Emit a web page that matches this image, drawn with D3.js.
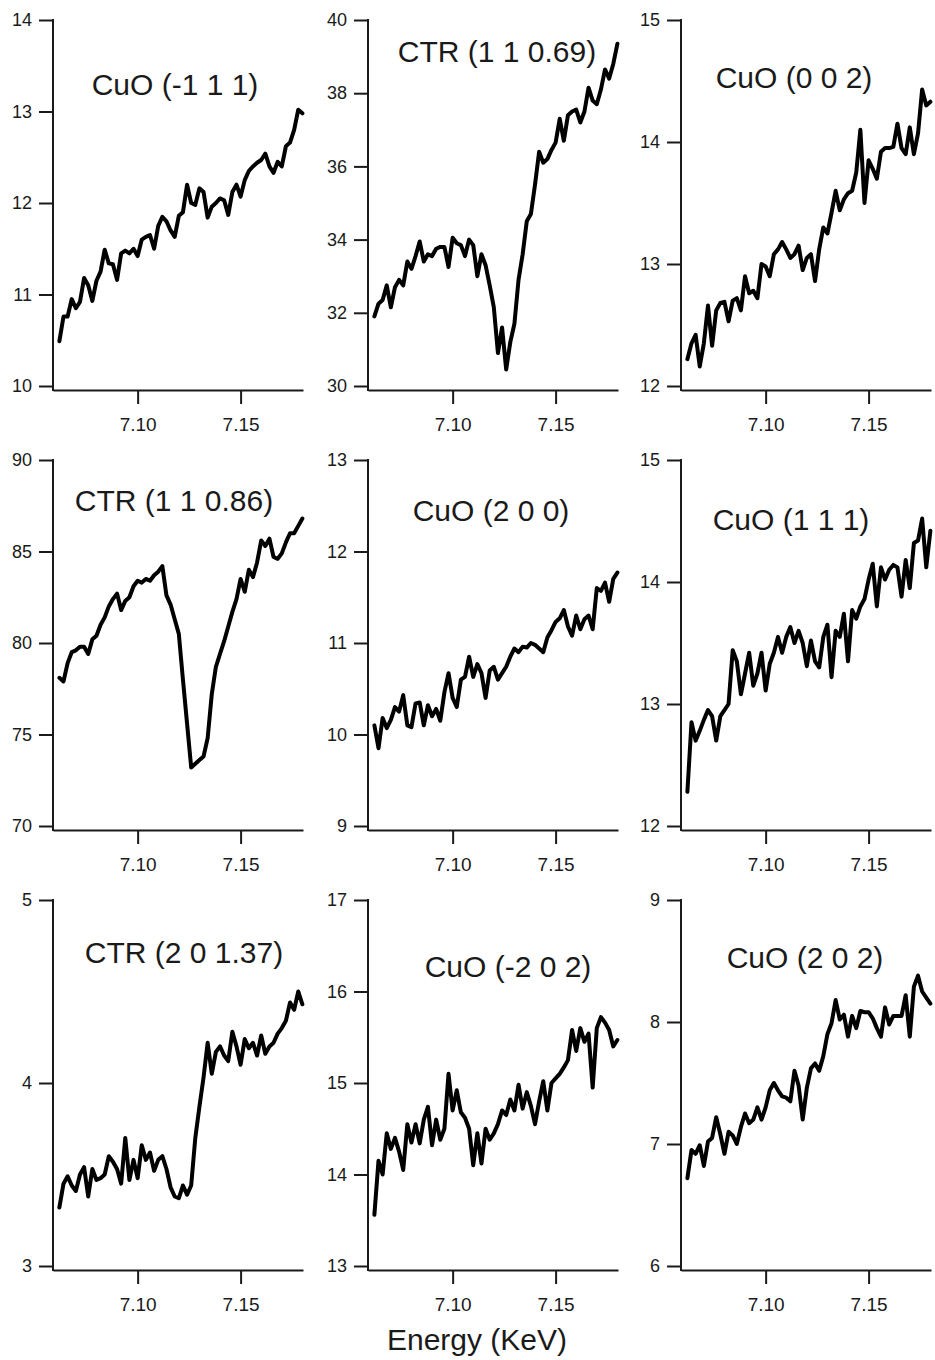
<!DOCTYPE html>
<html>
<head>
<meta charset="utf-8">
<script src="https://cdn.jsdelivr.net/npm/d3@7"></script>
<style>
  body { margin: 0; background: #fff; }
  text { font-family: "Liberation Sans", Arial, sans-serif; fill: #1a1a1a; }
</style>
</head>
<body>
<div id="chart"></div>
<script>
// ----------------------------------------------- //
// Data: shared energy grid (keV) and one intensity array per panel
var energy = [
  7.062, 7.064, 7.066, 7.068, 7.070, 7.072, 7.074, 7.076, 7.078, 7.080,
  7.082, 7.084, 7.086, 7.088, 7.090, 7.092, 7.094, 7.096, 7.098, 7.100,
  7.102, 7.104, 7.106, 7.108, 7.110, 7.112, 7.114, 7.116, 7.118, 7.120,
  7.122, 7.124, 7.126, 7.128, 7.130, 7.132, 7.134, 7.136, 7.138, 7.140,
  7.142, 7.144, 7.146, 7.148, 7.150, 7.152, 7.154, 7.156, 7.158, 7.160,
  7.162, 7.164, 7.166, 7.168, 7.170, 7.172, 7.174, 7.176, 7.178, 7.180
];

var cuoM111 = [
  10.49, 10.76, 10.76, 10.95, 10.85, 10.92, 11.18, 11.10, 10.93, 11.15,
  11.25, 11.49, 11.34, 11.33, 11.16, 11.45, 11.48, 11.45, 11.50, 11.42,
  11.60, 11.63, 11.65, 11.50, 11.75, 11.85, 11.80, 11.70, 11.63, 11.86,
  11.90, 12.20, 12.00, 11.98, 12.16, 12.12, 11.84, 11.96, 12.00, 12.05,
  12.03, 11.87, 12.12, 12.20, 12.07, 12.25, 12.35, 12.40, 12.44, 12.47,
  12.54, 12.40, 12.33, 12.45, 12.40, 12.62, 12.66, 12.80, 13.02, 12.98
];

var ctr110p69 = [
  31.90, 32.25, 32.35, 32.75, 32.15, 32.70, 32.90, 32.75, 33.40, 33.20,
  33.55, 33.95, 33.40, 33.60, 33.55, 33.75, 33.80, 33.80, 33.25, 34.05,
  33.90, 33.85, 33.55, 34.00, 33.85, 33.00, 33.60, 33.30, 32.75, 32.15,
  30.90, 31.60, 30.45, 31.20, 31.70, 32.90, 33.60, 34.50, 34.70, 35.50,
  36.40, 36.10, 36.20, 36.45, 36.65, 37.30, 36.70, 37.40, 37.50, 37.55,
  37.20, 37.50, 38.15, 37.80, 37.70, 38.10, 38.65, 38.40, 38.80, 39.35
];

var cuo002 = [
  12.22, 12.35, 12.42, 12.16, 12.35, 12.66, 12.33, 12.62, 12.68, 12.69,
  12.53, 12.70, 12.72, 12.62, 12.90, 12.76, 12.78, 12.72, 13.00, 12.98,
  12.90, 13.08, 13.12, 13.18, 13.12, 13.05, 13.08, 13.15, 12.95, 13.05,
  13.08, 12.86, 13.12, 13.30, 13.25, 13.42, 13.60, 13.44, 13.53, 13.58,
  13.60, 13.75, 14.10, 13.50, 13.85, 13.78, 13.70, 13.92, 13.95, 13.95,
  13.96, 14.15, 13.95, 13.90, 14.12, 13.90, 14.07, 14.43, 14.30, 14.33
];

var ctr110p86 = [
  78.1, 77.9, 78.9, 79.5, 79.6, 79.8, 79.8, 79.4, 80.2, 80.4,
  81.0, 81.4, 82.0, 82.4, 82.7, 81.8, 82.3, 82.5, 83.1, 83.4,
  83.3, 83.5, 83.4, 83.7, 83.9, 84.2, 82.6, 82.1, 81.3, 80.5,
  78.0, 75.6, 73.2, 73.4, 73.6, 73.8, 74.8, 77.2, 78.7, 79.4,
  80.1, 80.9, 81.7, 82.4, 83.5, 82.8, 84.0, 83.6, 84.4, 85.6,
  85.3, 85.7, 84.7, 84.6, 84.9, 85.5, 86.0, 86.0, 86.4, 86.8
];

var cuo200 = [
  10.10, 9.85, 10.18, 10.07, 10.16, 10.30, 10.25, 10.43, 10.10, 10.08,
  10.34, 10.35, 10.10, 10.32, 10.20, 10.28, 10.15, 10.46, 10.67, 10.40,
  10.30, 10.60, 10.63, 10.85, 10.63, 10.77, 10.67, 10.40, 10.70, 10.74,
  10.60, 10.67, 10.74, 10.85, 10.94, 10.90, 10.96, 10.95, 11.00, 10.98,
  10.94, 10.90, 11.06, 11.14, 11.23, 11.27, 11.36, 11.18, 11.08, 11.30,
  11.15, 11.26, 11.30, 11.15, 11.60, 11.57, 11.66, 11.45, 11.70, 11.77
];

var cuo111 = [
  12.28, 12.85, 12.70, 12.78, 12.87, 12.95, 12.90, 12.70, 12.90, 12.95,
  13.00, 13.44, 13.35, 13.08, 13.25, 13.42, 13.15, 13.25, 13.42, 13.11,
  13.33, 13.42, 13.55, 13.42, 13.55, 13.63, 13.50, 13.60, 13.50, 13.31,
  13.52, 13.35, 13.30, 13.55, 13.65, 13.22, 13.60, 13.55, 13.74, 13.35,
  13.77, 13.70, 13.80, 13.86, 14.02, 14.15, 13.80, 14.12, 14.02, 14.10,
  14.14, 14.12, 13.88, 14.18, 13.95, 14.32, 14.34, 14.52, 14.12, 14.42
];

var ctr201p37 = [
  3.32, 3.45, 3.49, 3.44, 3.41, 3.50, 3.54, 3.38, 3.53, 3.47,
  3.48, 3.50, 3.60, 3.57, 3.53, 3.45, 3.70, 3.47, 3.58, 3.48,
  3.66, 3.58, 3.62, 3.52, 3.58, 3.60, 3.53, 3.43, 3.38, 3.37,
  3.44, 3.39, 3.44, 3.70, 3.87, 4.03, 4.22, 4.05, 4.17, 4.20,
  4.15, 4.12, 4.28, 4.20, 4.10, 4.24, 4.19, 4.22, 4.15, 4.26,
  4.16, 4.20, 4.22, 4.27, 4.30, 4.34, 4.44, 4.40, 4.50, 4.43
];

var cuoM202 = [
  13.56, 14.15, 14.00, 14.45, 14.28, 14.40, 14.25, 14.05, 14.55, 14.35,
  14.55, 14.34, 14.60, 14.74, 14.32, 14.60, 14.38, 14.50, 15.10, 14.70,
  14.92, 14.68, 14.62, 14.50, 14.10, 14.45, 14.12, 14.50, 14.38, 14.45,
  14.55, 14.70, 14.65, 14.82, 14.70, 14.98, 14.72, 14.90, 14.75, 14.55,
  14.80, 15.02, 14.70, 15.00, 15.05, 15.10, 15.17, 15.25, 15.58, 15.35,
  15.60, 15.45, 15.54, 14.95, 15.60, 15.72, 15.66, 15.58, 15.40, 15.47
];

var cuo202 = [
  6.72, 6.95, 6.92, 6.99, 6.82, 7.02, 7.05, 7.22, 7.08, 6.92,
  7.10, 7.07, 7.00, 7.14, 7.25, 7.17, 7.20, 7.30, 7.20, 7.30,
  7.44, 7.50, 7.44, 7.39, 7.38, 7.35, 7.60, 7.48, 7.20, 7.46,
  7.62, 7.66, 7.60, 7.72, 7.90, 7.99, 8.18, 8.02, 8.06, 7.88,
  8.05, 7.95, 8.09, 8.08, 8.08, 8.03, 7.95, 7.88, 8.12, 7.98,
  8.05, 8.05, 8.05, 8.22, 7.88, 8.29, 8.38, 8.25, 8.20, 8.15
];

// Panel order: row by row
var seriesList = [cuoM111, ctr110p69, cuo002, ctr110p86, cuo200, cuo111, ctr201p37, cuoM202, cuo202];
var titles = ["CuO (-1 1 1)", "CTR (1 1 0.69)", "CuO (0 0 2)",
              "CTR (1 1 0.86)", "CuO (2 0 0)", "CuO (1 1 1)",
              "CTR (2 0 1.37)", "CuO (-2 0 2)", "CuO (2 0 2)"];
var yDomains = [[10, 14], [30, 40], [12, 15], [70, 90], [9, 13], [12, 15], [3, 5], [13, 17], [6, 9]];
var yTicks = [[10, 11, 12, 13, 14], [30, 32, 34, 36, 38, 40], [12, 13, 14, 15],
              [70, 75, 80, 85, 90], [9, 10, 11, 12, 13], [12, 13, 14, 15],
              [3, 4, 5], [13, 14, 15, 16, 17], [6, 7, 8, 9]];
var xTicks = [7.10, 7.15];
var xLabel = "Energy (KeV)";

// ----------------------------------------------- //
// Layout
var svgWidth = 935;
var svgHeight = 1360;
var colX = [53, 368, 681];
var rowY = [20, 460, 900];
var plotW = 250;
var plotH = 366;
var axisGap = 4;   // x axis sits a little below the lowest y tick
var titleX = [175, 497, 794, 174, 491, 791, 184, 508, 805];
var titleY = [95, 62, 88, 511, 521, 530, 963, 977, 968];

var svg = d3.select("#chart")
    .append("svg")
    .attr("width", svgWidth)
    .attr("height", svgHeight);

var xScale = d3.scaleLinear()
    .domain([7.0589, 7.1803])
    .range([0, plotW]);

seriesList.forEach(function(values, i) {
    var col = i % 3;
    var row = Math.floor(i / 3);

    var g = svg.append("g")
        .attr("transform", `translate(${colX[col]}, ${rowY[row]})`);

    var yScale = d3.scaleLinear()
        .domain(yDomains[i])
        .range([plotH, 0]);

    // y axis
    var leftAxis = d3.axisLeft(yScale)
        .tickValues(yTicks[i])
        .tickFormat(d3.format("d"))
        .tickSize(14)
        .tickPadding(7);

    var yAxis = g.append("g").call(leftAxis);
    yAxis.select(".domain").remove();
    yAxis.selectAll(".tick line").attr("stroke", "#1a1a1a").attr("stroke-width", 2);
    yAxis.selectAll(".tick text")
        .style("font-size", "18px")
        .style("font-family", "'Liberation Sans', Arial, sans-serif")
        .attr("fill", "#1a1a1a");

    g.append("line")
        .attr("x1", 0).attr("x2", 0)
        .attr("y1", yScale(yDomains[i][1]) - 1)
        .attr("y2", plotH + axisGap + 1)
        .attr("stroke", "#1a1a1a")
        .attr("stroke-width", 2);

    // x axis
    var bottomAxis = d3.axisBottom(xScale)
        .tickValues(xTicks)
        .tickFormat(d3.format(".2f"))
        .tickSize(14)
        .tickSizeOuter(0)
        .tickPadding(14);

    var xAxis = g.append("g")
        .attr("transform", `translate(0, ${plotH + axisGap})`)
        .call(bottomAxis);
    xAxis.select(".domain").attr("stroke", "#1a1a1a").attr("stroke-width", 2);
    xAxis.selectAll(".tick line").attr("stroke", "#1a1a1a").attr("stroke-width", 2);
    xAxis.selectAll(".tick text")
        .style("font-size", "19px")
        .style("font-family", "'Liberation Sans', Arial, sans-serif")
        .attr("fill", "#1a1a1a");

    // data line
    var line = d3.line()
        .x((d, j) => xScale(energy[j]))
        .y(d => yScale(d));

    g.append("path")
        .datum(values)
        .attr("d", line)
        .attr("fill", "none")
        .attr("stroke", "#000")
        .attr("stroke-width", 4)
        .attr("stroke-linejoin", "round")
        .attr("stroke-linecap", "round");

    // panel title
    svg.append("text")
        .attr("x", titleX[i])
        .attr("y", titleY[i])
        .attr("text-anchor", "middle")
        .style("font-size", "30px")
        .text(titles[i]);
});

// common x label
svg.append("text")
    .attr("x", 477)
    .attr("y", 1350)
    .attr("text-anchor", "middle")
    .style("font-size", "30px")
    .text(xLabel);
</script>
</body>
</html>
